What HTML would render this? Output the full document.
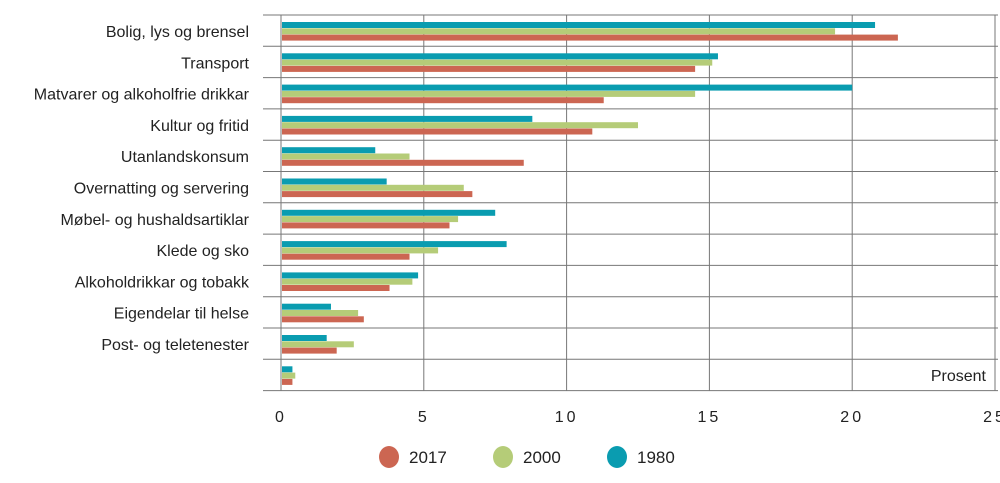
<!DOCTYPE html>
<html><head><meta charset="utf-8">
<style>
html,body{margin:0;padding:0;background:#fff;}
svg{display:block;font-family:"Liberation Sans",sans-serif;}
</style></head>
<body>
<svg id="chart" width="1000" height="483" viewBox="0 0 1000 483">
<g id="grid"></g><g id="bars"></g><g id="labels"></g><g id="ticks"></g><g id="legend"></g>
</svg>
<script>
const categories = ["Bolig, lys og brensel","Transport","Matvarer og alkoholfrie drikkar","Kultur og fritid","Utanlandskonsum","Overnatting og servering","Møbel- og hushaldsartiklar","Klede og sko","Alkoholdrikkar og tobakk","Eigendelar til helse","Post- og teletenester",""];
const values1980 = [20.8,15.3,20.0,8.8,3.3,3.7,7.5,7.9,4.8,1.75,1.6,0.4];
const values2000 = [19.4,15.1,14.5,12.5,4.5,6.4,6.2,5.5,4.6,2.7,2.55,0.5];
const values2017 = [21.6,14.5,11.3,10.9,8.5,6.7,5.9,4.5,3.8,2.9,1.95,0.4];
const tickValues = [0,5,10,15,20,25];
const tickLabels = ["0","5","10","15","20","25"];
const seriesNames = ["2017","2000","1980"];

const NS="http://www.w3.org/2000/svg";
const x0=281, pxPer=(995-281)/25, topY=15, rowH=31.3;
const xs=v=>x0+v*pxPer;
const ys=i=>topY+i*rowH;
function mk(tag,attrs,parent){const e=document.createElementNS(NS,tag);for(const k in attrs)e.setAttribute(k,attrs[k]);parent.appendChild(e);return e;}
const grid=document.getElementById('grid'),bars=document.getElementById('bars'),labels=document.getElementById('labels'),ticks=document.getElementById('ticks'),legend=document.getElementById('legend');
const n=categories.length;
for(let i=0;i<=n;i++){
  const l=mk('line',{x1:263,x2:998,y1:ys(i),y2:ys(i),stroke:'#777','stroke-width':1},grid);
  
  
}
tickValues.forEach((v,k)=>{
  const l=mk('line',{x1:xs(v),x2:xs(v),y1:topY,y2:ys(n),stroke:'#777','stroke-width':1},grid);
  
  
  const t=mk('text',{x:xs(v),y:422,'text-anchor':'middle','font-size':16,fill:'#222','letter-spacing':'3'},ticks);
  t.textContent=tickLabels[k];
  
  
});
const colors={"1980":"#0a9cb0","2000":"#b5cc78","2017":"#cc6652"};
const series=[["1980",values1980],["2000",values2000],["2017",values2017]];
categories.forEach((c,i)=>{
  series.forEach(([name,vals],j)=>{
    const r=mk('rect',{x:x0+1,y:ys(i)+7+j*6.3,width:Math.max(0,xs(vals[i])-x0-1),height:6,fill:colors[name]},bars);
    
    
  });
  if(c){
    const t=mk('text',{x:249,y:ys(i)+22,'text-anchor':'end','font-size':16,fill:'#222'},labels);
    t.textContent=c;
    
    
  }
});
const pt=mk('text',{x:986,y:381,'text-anchor':'end','font-size':16,fill:'#222'},labels);
pt.textContent='Prosent';


const lx=[389,503,617];
seriesNames.forEach((s,k)=>{
  const c=mk('ellipse',{cx:lx[k],cy:457,rx:10,ry:11,fill:colors[s]},legend);
  
  
  const t=mk('text',{x:lx[k]+20,y:463,'font-size':17,fill:'#222'},legend);
  t.textContent=s;
  
  
});
</script>
</body></html>
